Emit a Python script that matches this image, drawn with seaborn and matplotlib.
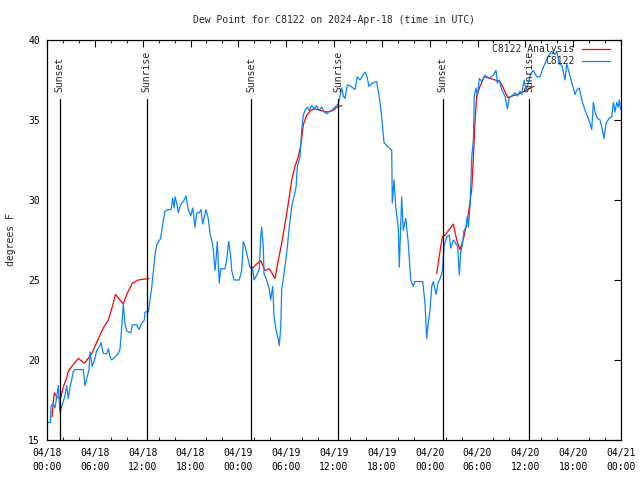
"""Dew point at C8122, observations vs analysis, 2024-04-18 .. 04-21 (UTC)"""
import numpy as np
import pandas as pd
import matplotlib
matplotlib.use('Agg')
import matplotlib.pyplot as plt
import matplotlib.dates as mdates
import seaborn as sns

sns.set_style("white")
plt.rcParams['font.family'] = ['DejaVu Sans Mono']
plt.rcParams['font.size'] = 7

START = pd.Timestamp('2024-04-18 00:00')

# ---- station observations (hours after start, degrees F) ----
obs_hours = [
    0.16, 0.44, 0.50, 0.75, 1.00, 1.22, 1.42, 1.63, 1.84, 2.04, 2.26, 2.47, 2.67, 2.89,
    3.10, 3.30, 3.51, 4.01, 4.55, 4.77, 5.02, 5.27, 5.39, 5.68, 6.02, 6.23, 6.65, 6.77,
    7.06, 7.49, 7.69, 7.90, 8.12, 8.53, 8.94, 9.16, 9.37, 9.57, 9.78, 10.00, 10.54, 10.70,
    11.25, 11.54, 11.88, 12.21, 12.29, 12.71, 12.92, 13.13, 13.33, 13.55, 13.76, 13.99,
    14.26, 14.51, 14.80, 15.22, 15.55, 15.77, 15.93, 16.06, 16.27, 16.47, 16.68, 16.90,
    17.10, 17.44, 17.72, 18.03, 18.28, 18.57, 18.78, 19.10, 19.32, 19.53, 19.94, 20.23,
    20.45, 20.66, 20.86, 21.07, 21.20, 21.36, 21.61, 21.79, 22.33, 22.54, 22.79, 23.04,
    23.17, 23.46, 24.12, 24.42, 24.62, 24.84, 25.13, 25.46, 25.80, 25.97, 26.30, 26.63,
    26.81, 26.93, 27.13, 27.22, 27.56, 27.89, 28.06, 28.31, 28.48, 28.73, 29.02, 29.14,
    29.32, 29.44, 29.73, 30.07, 30.39, 30.70, 30.98, 31.24, 31.40, 31.74, 31.95, 32.15,
    32.36, 32.65, 32.90, 33.20, 33.49, 33.83, 34.12, 34.46, 34.75, 35.09, 35.37, 35.71,
    36.13, 36.54, 36.97, 37.17, 37.38, 37.67, 38.13, 38.64, 38.92, 39.26, 39.64, 39.89,
    40.14, 40.39, 40.77, 41.36, 41.77, 42.02, 42.27, 42.81, 43.24, 43.31, 43.53, 43.74,
    44.07, 44.19, 44.49, 44.69, 45.00, 45.32, 45.62, 45.95, 46.12, 47.13, 47.42, 47.63,
    47.79, 48.04, 48.26, 48.46, 48.80, 49.05, 49.39, 49.61, 49.80, 50.14, 50.47, 50.64,
    50.97, 51.24, 51.52, 51.72, 51.89, 52.10, 52.31, 52.56, 52.72, 52.85, 53.06, 53.28,
    53.48, 53.60, 53.81, 53.98, 54.23, 54.53, 54.94, 55.45, 55.98, 56.32, 56.49, 56.74,
    57.04, 57.45, 57.74, 57.99, 58.33, 58.71, 59.02, 59.33, 59.55, 59.84, 60.09, 60.38,
    60.68, 61.00, 61.43, 61.84, 62.26, 62.88, 63.31, 63.72, 63.94, 64.26, 64.60, 64.98,
    65.19, 65.52, 65.86, 66.23, 66.48, 66.77, 67.11, 67.49, 67.90, 68.11, 68.33, 68.53,
    68.74, 69.06, 69.37, 69.58, 69.87, 70.12, 70.50, 70.84, 71.04, 71.25, 71.46, 71.67,
    71.79, 72.00,
]
obs_dewpt = [
    16.1, 16.1, 17.1, 17.3, 17.0, 17.7, 18.4, 16.7, 17.1, 17.4, 17.8, 18.4, 17.6, 18.3,
    18.75, 19.3, 19.4, 19.4, 19.4, 18.4, 18.9, 19.4, 20.5, 19.6, 20.1, 20.6, 20.9, 21.1,
    20.4, 20.4, 20.7, 20.2, 20.0, 20.2, 20.4, 20.7, 22.0, 23.5, 22.3, 21.8, 21.7, 22.2,
    22.2, 21.9, 22.3, 22.5, 23.0, 23.0, 23.8, 24.5, 25.5, 26.6, 27.2, 27.4,
    27.6, 28.5, 29.3, 29.4, 29.4, 30.1, 29.5, 30.2, 29.8, 29.2, 29.6, 29.8,
    29.9, 30.25, 29.4, 29.0, 29.5, 28.3, 29.2, 29.2, 29.4, 28.5, 29.4, 28.85,
    27.9, 27.5, 26.9, 25.6, 26.25, 27.4, 24.8, 25.7, 25.7, 26.25, 27.4, 26.5,
    25.6, 25.0, 25.0, 25.6, 27.4, 27.1, 26.5, 25.8, 25.7, 25.0, 25.3, 25.7,
    27.7, 28.3, 27.1, 25.4, 25.0, 24.4, 23.75, 24.6, 22.7, 21.9, 21.25, 20.9,
    22.1, 24.4, 25.4, 26.7, 28.3, 29.6, 30.2, 30.8, 32.1, 32.7, 34.4, 35.3,
    35.6, 35.8, 35.6, 35.9, 35.7, 35.9, 35.6, 35.8, 35.5, 35.4, 35.5, 35.6,
    35.8, 36.0, 37.0, 36.5, 36.35, 37.2, 37.1, 36.9, 37.7, 37.5, 37.8, 38.0,
    37.7, 37.1, 37.3, 37.4, 36.1, 35.0, 33.6, 33.3, 33.1, 29.8, 31.25, 29.6,
    28.2, 25.8, 30.2, 28.1, 28.85, 27.3, 25.0, 24.6, 24.9, 24.9, 23.5, 21.35,
    22.2, 23.1, 24.6, 24.9, 24.1, 24.8, 25.2, 25.6, 27.1, 27.7, 27.8, 27.0,
    27.5, 27.3, 27.1, 25.3, 26.7, 27.2, 28.1, 28.3, 29.0, 28.3, 29.6, 32.7,
    33.75, 36.5, 37.0, 36.5, 37.6, 37.4, 37.8, 37.6, 37.8, 38.1, 37.3, 37.5,
    36.9, 36.5, 35.7, 36.4, 36.5, 36.7, 36.5, 36.8, 36.6, 37.5, 36.9, 37.3,
    37.9, 38.1, 37.7, 37.7, 38.3, 39.0, 39.3, 39.1, 39.3, 38.5, 38.4, 37.5,
    38.5, 37.9, 37.3, 36.6, 36.9, 37.0, 36.2, 35.6, 35.1, 34.8, 34.4, 36.1,
    35.5, 35.1, 35.0, 34.6, 33.85, 34.8, 35.1, 35.2, 36.1, 35.5, 36.1, 35.8,
    36.25, 35.6,
]

# ---- analysis, three nightly windows ----
ana1_hours = [0.63, 0.92, 1.22, 1.69, 2.04, 2.47, 2.67, 3.10, 3.93, 4.70, 5.61, 6.23,
              7.06, 7.69, 8.12, 8.59, 9.57, 10.00, 10.70, 11.45, 12.83]
ana1_dewpt = [16.45, 17.95, 17.7, 17.6, 18.3, 18.9, 19.3, 19.6, 20.1, 19.8, 20.4, 21.1,
              22.0, 22.5, 23.2, 24.1, 23.5, 24.1, 24.8, 25.0, 25.1]
ana2_hours = [25.68, 26.30, 26.81, 27.35, 27.89, 28.60, 29.02, 29.44, 29.85, 30.27,
              30.70, 31.11, 31.52, 31.86, 32.15, 32.58, 33.08, 33.62, 34.25, 35.09,
              35.91, 36.34, 36.97]
ana2_dewpt = [25.7, 26.0, 26.2, 25.6, 25.7, 25.1, 26.25, 27.3, 28.5, 29.8,
              31.25, 32.1, 32.7, 33.5, 34.7, 35.3, 35.6, 35.7, 35.6, 35.5,
              35.6, 35.8, 35.9]
ana3_hours = [48.88, 49.30, 49.59, 49.93, 50.97, 51.39, 51.81, 52.35, 52.85, 53.28,
              53.48, 53.69, 53.90, 54.31, 54.86, 55.57, 56.20, 56.83, 57.24, 57.79,
              58.30, 59.12, 59.88, 60.59, 61.09]
ana3_dewpt = [25.4, 26.8, 27.7, 27.8, 28.5, 27.5, 26.9, 27.8, 29.1, 30.7,
              32.6, 34.9, 36.5, 37.1, 37.7, 37.6, 37.5, 37.4, 37.0, 36.4,
              36.5, 36.6, 36.8, 37.0, 37.1]

sun_times = ['2024-04-18 01:36', '2024-04-18 12:30', '2024-04-19 01:37',
             '2024-04-19 12:31', '2024-04-20 01:38', '2024-04-20 12:29']
sun_labels = ['Sunset', 'Sunrise', 'Sunset', 'Sunrise', 'Sunset', 'Sunrise']

obs = pd.DataFrame({'time': START + pd.to_timedelta(obs_hours, unit='h'),
                    'dewpt': obs_dewpt})
ana_segments = [
    pd.DataFrame({'time': START + pd.to_timedelta(h, unit='h'), 'dewpt': v})
    for h, v in [(ana1_hours, ana1_dewpt), (ana2_hours, ana2_dewpt),
                 (ana3_hours, ana3_dewpt)]
]

fig = plt.figure(figsize=(6.4, 4.8), dpi=100)
ax = fig.add_axes([47 / 640, 40 / 480, 574 / 640, 400 / 480])

for i, seg in enumerate(ana_segments):
    sns.lineplot(data=seg, x='time', y='dewpt', color='#ff0000', linewidth=0.9,
                 label='C8122 Analysis' if i == 0 else '_nolegend_', ax=ax)
sns.lineplot(data=obs, x='time', y='dewpt', color='#0a84ff', linewidth=0.9,
             label='C8122', ax=ax)

top_frac = 341 / 400
for t, lab in zip(sun_times, sun_labels):
    ts = pd.Timestamp(t)
    ax.axvline(ts, ymin=0, ymax=top_frac, color='black', linewidth=0.9)
    ax.text(ts, top_frac + 0.017, lab, rotation=90, ha='center', va='bottom',
            transform=ax.get_xaxis_transform(), fontsize=7)

ax.set_xlim(START, START + pd.Timedelta(hours=72))
ax.set_ylim(15, 40)
ax.set_yticks([15, 20, 25, 30, 35, 40])
ax.xaxis.set_major_locator(mdates.HourLocator(byhour=[0, 6, 12, 18]))
ax.xaxis.set_minor_locator(mdates.HourLocator(interval=2))
ax.xaxis.set_major_formatter(mdates.DateFormatter('%m/%d\n%H:%M'))

ax.tick_params(axis='both', which='major', direction='in', length=5, width=0.8,
               top=True, right=True, labelsize=7, colors='black')
ax.tick_params(axis='x', which='minor', direction='in', length=2.5, width=0.8,
               top=True, bottom=True)
ax.tick_params(axis='x', which='major', pad=6)
ax.tick_params(axis='y', which='major', pad=5)
for s in ax.spines.values():
    s.set_color('black')
    s.set_linewidth(0.9)

ax.set_xlabel('')
ax.set_ylabel('degrees F', fontsize=7, labelpad=9)
ax.set_title('Dew Point for C8122 on 2024-Apr-18 (time in UTC)', fontsize=7, pad=12)

handles, labels = ax.get_legend_handles_labels()
leg = ax.legend(handles, labels, loc='upper right', bbox_to_anchor=(1.0, 1.016),
                frameon=False, markerfirst=False, fontsize=7, handlelength=2.9,
                handletextpad=0.8, labelspacing=0.2, borderpad=0.3, borderaxespad=0.8)

fig.canvas.draw()
for lbl in ax.get_xticklabels():
    lbl.set_linespacing(1.5)

fig.savefig('out.png', dpi=100)
print("saved out.png")
